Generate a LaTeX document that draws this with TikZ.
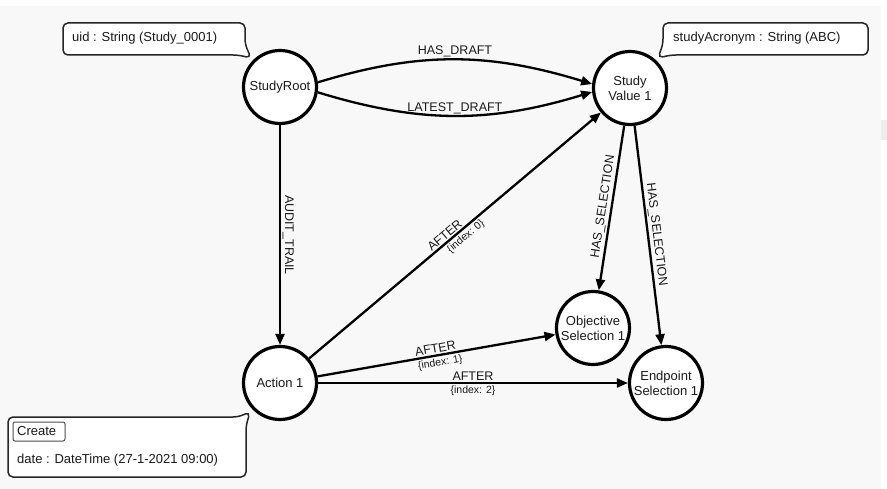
\documentclass[tikz,border=0pt]{standalone}
\usepackage{fontspec}
\setmainfont{Liberation Sans}
\usetikzlibrary{arrows.meta}
\definecolor{bggray}{HTML}{F8F8F8}
\definecolor{txt}{HTML}{1A1A1A}
\tikzset{
  entity/.style={circle, draw=black, fill=white, line width=3.2pt, minimum size=73pt, inner sep=0pt, align=center, text=txt, font=\fontsize{13}{15}\selectfont},
  rel/.style={draw=black, line width=2.3pt, -{Triangle[length=11pt,width=9pt]}},
  lbl/.style={font=\fontsize{12.5}{14}\selectfont, text=txt, inner sep=1.5pt},
  idx/.style={font=\fontsize{10.5}{12}\selectfont, text=txt, inner sep=2pt},
  callout/.style={draw=black!85, fill=white, line width=1.5pt, rounded corners=5pt},
  ctext/.style={font=\fontsize{13}{15}\selectfont, text=txt, inner sep=0pt, anchor=west},
}
\begin{document}
\begin{tikzpicture}[x=1pt,y=1pt]
\useasboundingbox (0,0) rectangle (887,-489);
\fill[white] (0,0) rectangle (887,-489);
\fill[bggray] (0,-6) rectangle (881,-489);
\fill[black!7] (881,-120) rectangle (887,-140);

% nodes
\node[entity] (root) at (280,-87) {StudyRoot};
\node[entity] (sv) at (630,-88) {Study\\Value 1};
\node[entity] (act) at (280,-383) {Action 1};
\node[entity] (obj) at (593,-328) {Objective\\Selection 1};
\node[entity] (ep) at (666,-383) {Endpoint\\Selection 1};

% callouts
\draw[callout] (63,-23) -- (245,-23) -- (245,-44) -- (251,-58) -- (238,-55) -- (63,-55) -- cycle;
\node[ctext] (uidtxt) at (72,-38) {uid : String (Study\_0001)};

\draw[callout] (868,-23) -- (868,-55) -- (671,-55) -- (658,-58) -- (663,-44) -- (663,-23) -- cycle;
\node[ctext] (acrtxt) at (673,-38) {studyAcronym : String (ABC)};

\draw[callout] (8,-417) -- (8,-477) -- (246,-477) -- (246,-426) -- (250,-412) -- (238,-417) -- cycle;
\draw[draw=black!70, fill=white, line width=1pt, rounded corners=2pt] (13,-422) rectangle (65,-441);
\node[ctext] (createbtn) at (17,-431.5) {Create};
\node[ctext] (datetxt) at (17,-460) {date : DateTime (27-1-2021 09:00)};

% edges
\draw[rel] (root.7) to[out=17, in=163] node[lbl, midway, above] {HAS\_DRAFT} (sv.174);
\draw[rel] (root.-8) to[out=-17, in=-163] node[lbl, midway, above, inner sep=0pt] {LATEST\_DRAFT} (sv.186);
\draw[rel] (root) -- node[lbl, midway, sloped, above] {AUDIT\_TRAIL} (act);
\draw[rel] (act) -- node[lbl, pos=0.48, sloped, above] {AFTER} node[idx, pos=0.52, sloped, below] {\{index: 0\}} (sv);
\draw[rel] (act) -- node[lbl, pos=0.5, sloped, above] {AFTER} node[idx, pos=0.51, sloped, below] {\{index: 1\}} (obj);
\draw[rel] (act) -- node[lbl, midway, above] {AFTER} node[idx, midway, below] {\{index: 2\}} (ep);
\draw[rel] (sv) -- node[lbl, midway, sloped, above] {HAS\_SELECTION} (obj);
\draw[rel] (sv) -- node[lbl, midway, sloped, above] {HAS\_SELECTION} (ep);
\end{tikzpicture}
\end{document}
